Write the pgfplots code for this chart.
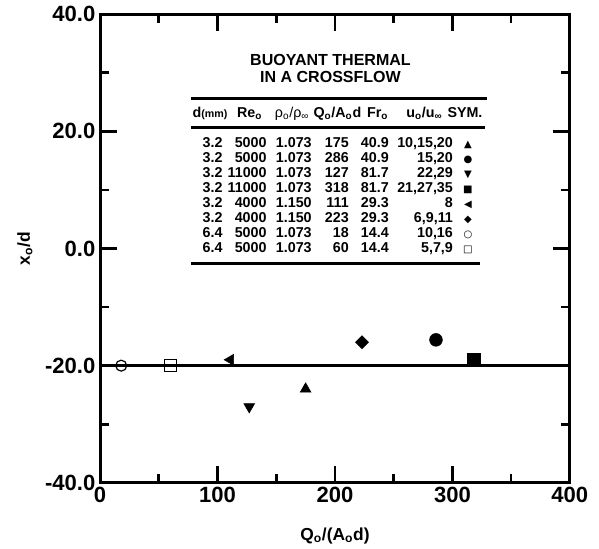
\documentclass[border=0pt]{standalone}
\usepackage{fontspec}
\setmainfont{Liberation Sans}
\newfontfamily\symfont{DejaVu Sans}
\usepackage{pgfplots}
\pgfplotsset{compat=1.18}

% one row of the legend table: right edges of columns taken from the figure
\newcommand\trow[7]{\makebox[23.25pt][r]{#1}\makebox[33pt][r]{#2}\makebox[33.75pt][r]{#3}%
  \makebox[27.75pt][r]{#4}\makebox[30pt][r]{#5}\makebox[48pt][r]{#6}%
  \makebox[22.5pt][c]{\symfont\fontsize{7.5}{8}\selectfont #7}}
\newcommand\sub[1]{\textsubscript{#1}}

\begin{document}
\begin{tikzpicture}
\begin{axis}[scale only axis, width=351.75pt, height=351pt,
  xmin=0, xmax=400, ymin=-40, ymax=40,
  xtick={0,100,...,400}, ytick={-40,-20,...,40},
  minor x tick num=1, minor y tick num=1,
  tick align=inside,
  major tick length=12.75pt, minor tick length=7pt,
  tick style={line width=2pt, black},
  axis line style={line width=2.2pt},
  tick label style={font=\fontsize{16.5}{18}\selectfont\bfseries,
    /pgf/number format/assume math mode=true},
  yticklabel style={/pgf/number format/fixed, /pgf/number format/fixed zerofill,
    /pgf/number format/precision=1},
  xlabel={Q\sub{o}/(A\sub{o}d)}, ylabel={x\sub{o}/d},
  label style={font=\fontsize{13}{15}\selectfont\bfseries},
  xlabel style={at={(rel axis cs:0.5,-0.113)}, anchor=center},
  ylabel style={at={(rel axis cs:-0.16,0.5)}, anchor=center},
  clip=false]

% reference line
\addplot[black, line width=2.2pt] coordinates {(0,-20) (400,-20)};

% measured points
\addplot[only marks, mark=triangle*, mark size=4.7pt, line width=0.4pt, black] coordinates {(175,-24)};
\addplot[only marks, mark=*, mark size=4.8pt, line width=0.4pt, black] coordinates {(286,-15.6)};
\addplot[only marks, mark=triangle*, mark size=4.7pt, line width=0.4pt, mark options={rotate=180}, black] coordinates {(127,-27)};
\addplot[only marks, mark=square*, mark size=4.8pt, line width=0.4pt, black] coordinates {(318,-19)};
\addplot[only marks, mark=triangle*, mark size=4.7pt, line width=0.4pt, mark options={rotate=90}, black] coordinates {(111,-19)};
\addplot[only marks, mark=square*, mark size=3.45pt, line width=0.4pt, mark options={rotate=45}, black] coordinates {(223,-16)};
\addplot[only marks, mark=o, mark size=4.1pt, line width=0.9pt, black] coordinates {(18,-20)};
\addplot[only marks, mark=square, mark size=4.4pt, line width=0.9pt, black] coordinates {(60,-20)};

% heavy frame
\draw[line width=2.2pt, line cap=rect] (rel axis cs:0,0) rectangle (rel axis cs:1,1);

% legend table
\node[font=\fontsize{12}{14}\selectfont\bfseries, anchor=base] at (axis cs:196.2,31.3) {BUOYANT THERMAL};
\node[font=\fontsize{12}{14}\selectfont\bfseries, anchor=base] at (axis cs:196.2,28.4) {IN A CROSSFLOW};
\draw[line width=2pt] (axis cs:77.6,25.64) -- (axis cs:329.2,25.64);
\draw[line width=2pt] (axis cs:77.6,20.68) -- (axis cs:327.5,20.68);
\draw[line width=2pt] (axis cs:77.6,-2.56) -- (axis cs:323.2,-2.56);

\begin{scope}[every node/.style={font=\fontsize{10.7}{12}\selectfont\bfseries, inner sep=0pt}]
\node[anchor=base west] at (axis cs:78.5,22.4) {d{\fontsize{8}{9}\selectfont(mm)}};
\node[anchor=base east] at (axis cs:138.2,22.4) {Re\sub{o}};
\node[anchor=base east] at (axis cs:178.3,22.4) {\mdseries ρ\sub{o}/ρ\sub{∞}};
\node[anchor=base east] at (axis cs:222.6,22.4) {Q\sub{o}/A\sub{o}d};
\node[anchor=base east] at (axis cs:245.6,22.4) {Fr\sub{o}};
\node[anchor=base east] at (axis cs:291.7,22.4) {u\sub{o}/u\sub{∞}};
\node[anchor=base east] at (axis cs:325.8,22.4) {SYM.};
\end{scope}

\node[anchor=north west, inner sep=0pt, align=left,
  font=\fontsize{10.7}{11.25}\selectfont\bfseries] at (axis cs:77.6,18.97) {%
  \trow{3.2}{5000}{1.073}{175}{40.9}{10,15,20}{▲}\\
  \trow{3.2}{5000}{1.073}{286}{40.9}{15,20}{●}\\
  \trow{3.2}{11000}{1.073}{127}{81.7}{22,29}{▼}\\
  \trow{3.2}{11000}{1.073}{318}{81.7}{21,27,35}{■}\\
  \trow{3.2}{4000}{1.150}{111}{29.3}{8}{◀}\\
  \trow{3.2}{4000}{1.150}{223}{29.3}{6,9,11}{◆}\\
  \trow{6.4}{5000}{1.073}{18}{14.4}{10,16}{○}\\
  \trow{6.4}{5000}{1.073}{60}{14.4}{5,7,9}{□}};

% page frame matching the reference margins
\path (rel axis cs:-0.213,-0.141) rectangle (rel axis cs:1.062,1.030);
\end{axis}
\end{tikzpicture}
\end{document}
